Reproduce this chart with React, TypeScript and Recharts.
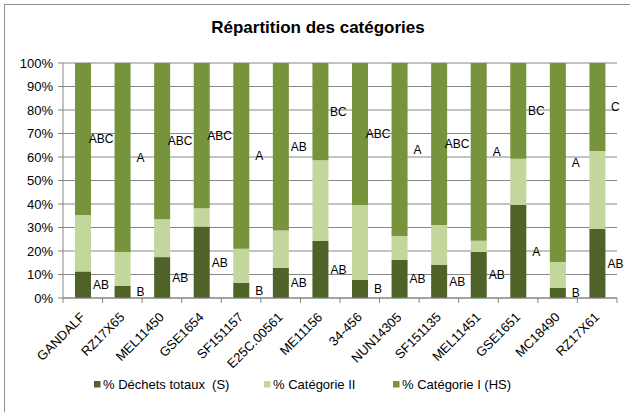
import React from 'react';
import { BarChart, Bar, XAxis, YAxis, CartesianGrid, LabelList } from 'recharts';

const categories = ['GANDALF', 'RZ17X65', 'MEL11450', 'GSE1654', 'SF151157', 'E25C.00561', 'ME11156', '34-456', 'NUN14305', 'SF151135', 'MEL11451', 'GSE1651', 'MC18490', 'RZ17X61'];
const dechetsTotaux = [11.3, 5.1, 17.4, 30.4, 6.5, 12.8, 24.3, 7.7, 16.2, 14.2, 19.6, 39.6, 4.3, 29.5];
const categorieII = [24.0, 14.5, 16.1, 7.8, 14.5, 15.9, 34.3, 31.9, 10.2, 16.9, 4.8, 19.7, 11.0, 33.1];
const categorieI = [64.7, 80.4, 66.5, 61.8, 79.0, 71.3, 41.4, 60.4, 73.6, 68.9, 75.6, 40.7, 84.7, 37.4];
const lettersCatI = ['ABC', 'A', 'ABC', 'ABC', 'A', 'AB', 'BC', 'ABC', 'A', 'ABC', 'A', 'BC', 'A', 'C'];
const lettersDechets = ['AB', 'B', 'AB', 'AB', 'B', 'AB', 'AB', 'B', 'AB', 'AB', 'AB', 'A', 'B', 'AB'];
const yTicks = [0, 10, 20, 30, 40, 50, 60, 70, 80, 90, 100];

const seriesNames = ['% Déchets totaux  (S)', '% Catégorie II', '% Catégorie I (HS)'];
const colors = ['#4F6228', '#C3D69B', '#77933C'];

const data = categories.map((name, i) => ({
  name,
  s: dechetsTotaux[i],
  c2: categorieII[i],
  c1: categorieI[i],
}));

const FONT = '"Liberation Sans", Arial, sans-serif';
const W = 630;
const H = 412;
const M = { top: 63, right: 13, bottom: 54, left: 13 };
const YW = 50;
const PLOT_W = W - M.left - M.right - YW;
const AXIS_COLOR = '#868686';

const XTick = (props: any) => {
  const { x, y, payload, index } = props;
  const bw = PLOT_W / categories.length;
  const ax = x + 3;
  const ay = y + 20;
  return (
    <g>
      <line x1={x - bw / 2} y1={y} x2={x - bw / 2} y2={y + 5} stroke={AXIS_COLOR} />
      {index === categories.length - 1 && (
        <line x1={x + bw / 2} y1={y} x2={x + bw / 2} y2={y + 5} stroke={AXIS_COLOR} />
      )}
      <text x={ax} y={ay} textAnchor="end" fontSize={13} fill="#000" fontFamily={FONT} transform={`rotate(-45 ${ax} ${ay})`}>
        {payload.value}
      </text>
    </g>
  );
};

const makeLabel = (letters: string[], dx: number) => (props: any) => {
  const { x, y, width, height, index } = props;
  return (
    <text x={Number(x) + Number(width) + dx} y={Number(y) + Number(height) / 2} dy="0.36em" textAnchor="middle" fontSize={12} fill="#000" fontFamily={FONT}>
      {letters[index]}
    </text>
  );
};

export default function App() {
  const legendX = [94, 264, 393];
  const legendTextX = [103, 273, 402];
  return (
    <div style={{ position: 'absolute', left: 0, top: 0, width: W, height: H, overflow: 'hidden', background: '#fff', fontFamily: FONT }}>
      <div style={{ position: 'absolute', left: 4, top: 4, width: 900, height: 900, border: '1px solid #8f8f8f' }} />
      <div style={{ position: 'absolute', left: 0, top: 0 }}>
        <BarChart width={W} height={H} data={data} margin={M} barSize={16}>
          <CartesianGrid vertical={false} stroke={AXIS_COLOR} />
          <XAxis
            dataKey="name"
            interval={0}
            tickLine={false}
            tickSize={0}
            tickMargin={0}
            height={60}
            axisLine={{ stroke: AXIS_COLOR }}
            tick={<XTick />}
          />
          <YAxis
            width={YW}
            domain={[0, 100]}
            ticks={yTicks}
            tickFormatter={(v: number) => `${v}%`}
            tickSize={5}
            tickMargin={5}
            tickLine={{ stroke: AXIS_COLOR }}
            axisLine={{ stroke: AXIS_COLOR }}
            tick={{ fontSize: 13, fill: '#000', fontFamily: FONT }}
            allowDataOverflow
          />
          <Bar dataKey="s" stackId="a" fill={colors[0]} isAnimationActive={false}>
            <LabelList dataKey="s" content={makeLabel(lettersDechets, 10)} />
          </Bar>
          <Bar dataKey="c2" stackId="a" fill={colors[1]} isAnimationActive={false} />
          <Bar dataKey="c1" stackId="a" fill={colors[2]} isAnimationActive={false}>
            <LabelList dataKey="c1" content={makeLabel(lettersCatI, 10)} />
          </Bar>
        </BarChart>
      </div>
      <svg width={W} height={H} style={{ position: 'absolute', left: 0, top: 0, pointerEvents: 'none' }}>
        <text x={318} y={33} textAnchor="middle" fontSize={17} fontWeight="bold" fill="#000" fontFamily={FONT}>
          Répartition des catégories
        </text>
        {seriesNames.map((n, i) => (
          <g key={n}>
            <rect x={legendX[i]} y={381} width={6.5} height={6.5} fill={colors[i]} />
            <text x={legendTextX[i]} y={388.5} fontSize={13} fill="#000" fontFamily={FONT} style={{ whiteSpace: 'pre' }}>
              {n}
            </text>
          </g>
        ))}
      </svg>
    </div>
  );
}
